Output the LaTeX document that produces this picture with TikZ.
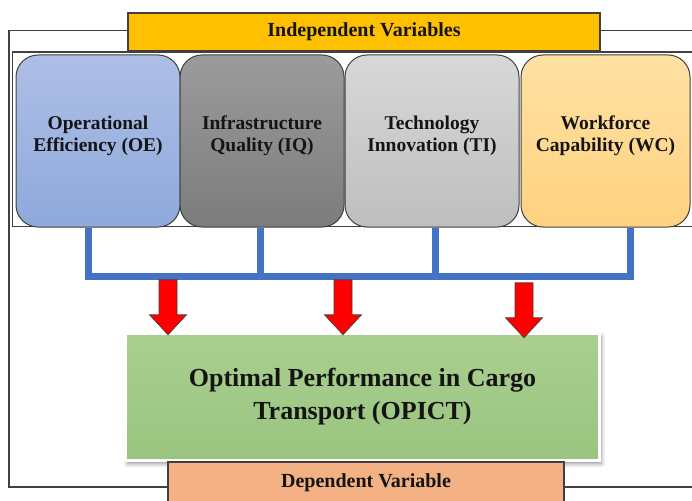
\documentclass[tikz,border=0pt]{standalone}
\usepackage{fontspec}
\setmainfont{Liberation Serif}
\usetikzlibrary{shadows.blur}

\definecolor{frame}{HTML}{404040}
\definecolor{ink}{HTML}{141414}
\definecolor{busblue}{HTML}{4472C4}
\definecolor{ivyellow}{HTML}{FFC000}
\definecolor{dvorange}{HTML}{F4B183}
\definecolor{arrowred}{HTML}{FF0000}
\definecolor{oetop}{HTML}{AEBFE6}
\definecolor{oebot}{HTML}{8EA9DB}
\definecolor{iqtop}{HTML}{9B9B9B}
\definecolor{iqbot}{HTML}{7C7C7C}
\definecolor{titop}{HTML}{D8D8D8}
\definecolor{tibot}{HTML}{BEBEBE}
\definecolor{wctop}{HTML}{FFE1A3}
\definecolor{wcbot}{HTML}{FFD280}
\definecolor{gtop}{HTML}{AACF90}
\definecolor{gbot}{HTML}{99C47F}

\tikzset{
  varbox/.style={draw=frame, line width=1pt, rounded corners=22pt,
    minimum height=172pt, inner sep=0pt},
  boxlabel/.style={font=\bfseries\fontsize{19.5}{22}\selectfont, align=center,
    text=ink, inner sep=0pt},
  headbox/.style={draw=frame, line width=1.2pt, inner sep=0pt,
    font=\bfseries\fontsize{20}{24}\selectfont, text=ink},
  bus/.style={draw=busblue, line width=7pt, line join=miter},
  arrowshape/.style={fill=arrowred, draw=frame, line width=0.7pt, line join=miter},
  downarrow/.pic={
    \draw[arrowshape] (0,0) -- (-18.5,-20) -- (-9,-20) -- (-9,-55)
      -- (9,-55) -- (9,-20) -- (18.5,-20) -- cycle;
  },
}

\begin{document}
\begin{tikzpicture}[x=1pt, y=-1pt]
\useasboundingbox (0,0) rectangle (692,500);
\clip (0,0) rectangle (692,500);

% outer and inner frames (they run past the right edge)
\draw[frame, line width=1.5pt] (9,30.5) rectangle (720,487);
\draw[frame, line width=1.2pt] (12.5,52) rectangle (720,226.5);

% heading of the independent variables
\node[headbox, fill=ivyellow, minimum width=472pt, minimum height=38pt]
  (IV) at (364,32) {Independent Variables};

% the four independent variables
\node[varbox, minimum width=164pt, top color=oetop, bottom color=oebot] (OE) at (98,141) {};
\node[varbox, minimum width=164pt, top color=iqtop, bottom color=iqbot] (IQ) at (262,141) {};
\node[varbox, minimum width=174pt, top color=titop, bottom color=tibot] (TI) at (432,141) {};
\node[varbox, minimum width=169pt, top color=wctop, bottom color=wcbot] (WC) at (605.5,141) {};

\node[boxlabel] (OEt) at ([yshift=5pt]OE.center) {Operational\\Efficiency (OE)};
\node[boxlabel] (IQt) at ([yshift=5pt]IQ.center) {Infrastructure\\Quality (IQ)};
\node[boxlabel] (TIt) at ([yshift=5pt]TI.center) {Technology\\Innovation (TI)};
\node[boxlabel] (WCt) at ([yshift=5pt]WC.center) {Workforce\\Capability (WC)};

% blue bus joining the variables
\draw[bus] ([xshift=-10pt]OE.south) -- ++(0,49) -| ([xshift=24.5pt]WC.south);
\draw[bus] ([xshift=-2pt]IQ.south) -- ++(0,49);
\draw[bus] ([xshift=3pt]TI.south) -- ++(0,49);

% dependent variable
\node[draw=white, line width=3pt, minimum width=474pt, minimum height=127.5pt,
  top color=gtop, bottom color=gbot,
  blur shadow={shadow xshift=2pt, shadow yshift=-3pt, shadow blur radius=4pt, shadow opacity=45},
  align=center, text=ink, font=\bfseries\fontsize{26}{33}\selectfont]
  (G) at (362.5,397) {Optimal Performance in Cargo\\Transport (OPICT)};

\node[headbox, fill=dvorange, minimum width=396pt, minimum height=42pt]
  (DV) at (366,483) {Dependent Variable};

% red arrows into the dependent variable
\pic at ([xshift=-194.5pt, yshift=-3pt]G.north) {downarrow};
\pic at ([xshift=-19.5pt, yshift=-3pt]G.north) {downarrow};
\pic at ([xshift=161.5pt, yshift=-6pt]G.north) {downarrow};
\end{tikzpicture}
\end{document}
